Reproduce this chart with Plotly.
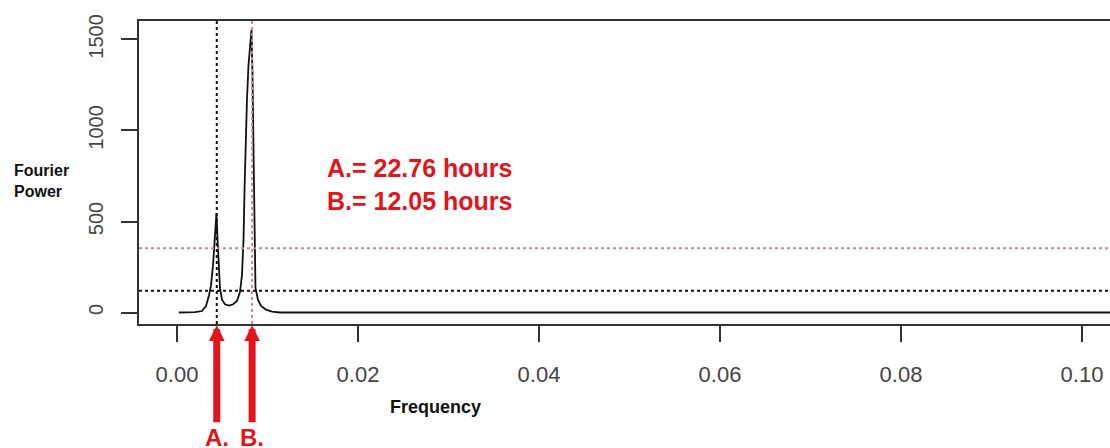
import plotly.graph_objects as go

# Fourier power spectrum (frequency in cycles per sample, 10 samples per hour)
frequency = [0.0002, 0.0020, 0.00276, 0.0032, 0.00354, 0.00376, 0.00398, 0.00414,
             0.00425, 0.00436, 0.00448, 0.00459, 0.00475, 0.00497, 0.0053, 0.00575,
             0.0062, 0.00663, 0.00696, 0.00718, 0.00735, 0.00746, 0.00757, 0.00773,
             0.0079, 0.00807, 0.00823, 0.00834, 0.00845, 0.00856, 0.00867, 0.00895,
             0.00928, 0.00983, 0.0105, 0.01138, 0.02, 0.04, 0.06, 0.08, 0.10, 0.106]
power = [0, 2, 8, 35, 95, 150, 260, 400,
         500, 546, 400, 280, 135, 70, 45, 38,
         45, 63, 112, 205, 400, 672, 920, 1168,
         1360, 1470, 1552, 1305, 838, 343, 135, 69,
         36, 16, 5, 0, 0, 0, 0, 0, 0, 0]

samples_per_hour = 10
peak_labels = ["A.", "B."]
peak_periods_h = [22.76, 12.05]
peak_freqs = [1.0 / (p * samples_per_hour) for p in peak_periods_h]
line_colors = ["#111111", "#c48c8c"]
threshold_levels = [120, 353]

x_ticks = [0.00, 0.02, 0.04, 0.06, 0.08, 0.10]
x_ticktext = ["0.00", "0.02", "0.04", "0.06", "0.08", "0.10"]
y_ticks = [0, 500, 1000, 1500]

RED = "#e3141c"
FONT = "Liberation Sans, Arial, sans-serif"

fig = go.Figure()
fig.add_trace(go.Scatter(x=frequency, y=power, mode="lines",
                         line=dict(color="#111111", width=1.8),
                         hoverinfo="skip", showlegend=False))

# dotted markers at the two peak frequencies and the two power levels
for f, c in zip(peak_freqs, line_colors):
    fig.add_shape(type="line", xref="x", yref="paper", x0=f, x1=f, y0=0, y1=1,
                  line=dict(color=c, width=2, dash="dot"))
for lvl, c in zip(threshold_levels, line_colors):
    fig.add_shape(type="line", xref="paper", yref="y", x0=0, x1=1, y0=lvl, y1=lvl,
                  line=dict(color=c, width=2, dash="dot"))

# red arrows below the axis pointing up at each peak frequency, label at the tail
for lab, f in zip(peak_labels, peak_freqs):
    fig.add_annotation(x=f, y=-0.004, xref="x", yref="paper", text=lab, showarrow=True,
                       ax=0, ay=112, axref="pixel", ayref="pixel",
                       arrowhead=2, arrowsize=0.45, arrowwidth=7,
                       arrowcolor=RED, xanchor="center", yanchor="middle",
                       font=dict(family=FONT, size=24, color=RED, weight="bold"))

period_text = "<br>".join(f"{lab}= {p:.2f} hours" for lab, p in zip(peak_labels, peak_periods_h))
fig.add_annotation(x=0.0163, y=880, xref="x", yref="y", text=period_text,
                   showarrow=False, xanchor="left", yanchor="top", align="left",
                   font=dict(family=FONT, size=25, color=RED, weight="bold"))

fig.add_annotation(x=-0.131, y=0.472, xref="paper", yref="paper",
                   text="Fourier<br>Power", showarrow=False, xanchor="left",
                   yanchor="middle", align="left",
                   font=dict(family=FONT, size=16, color="#111111", weight="bold"))
fig.add_annotation(x=0.0286, y=-0.274, xref="x", yref="paper", text="Frequency",
                   showarrow=False, xanchor="center", yanchor="middle",
                   font=dict(family=FONT, size=18, color="#111111", weight="bold"))

fig.update_layout(
    width=1110, height=448,
    margin=dict(l=139, r=0, t=21, b=124),
    paper_bgcolor="white", plot_bgcolor="white",
    font=dict(family=FONT),
    xaxis=dict(range=[-0.0042, 0.1031], tickvals=x_ticks, ticktext=x_ticktext,
               showgrid=False, zeroline=False, showline=True, mirror=True,
               linecolor="#333333", linewidth=1.5, ticks="outside", ticklen=16,
               tickwidth=1.5, tickcolor="#333333", ticklabelstandoff=14,
               tickfont=dict(family=FONT, size=22, color="#444444")),
    yaxis=dict(range=[-63.2, 1601.6], tickvals=y_ticks,
               showgrid=False, zeroline=False, showline=True, mirror=False,
               linecolor="#333333", linewidth=1.5, ticks="outside", ticklen=16,
               tickwidth=1.5, tickcolor="#333333", tickangle=-90,
               ticklabelstandoff=10,
               tickfont=dict(family=FONT, size=20, color="#444444")),
)

fig.write_html("out.html")
